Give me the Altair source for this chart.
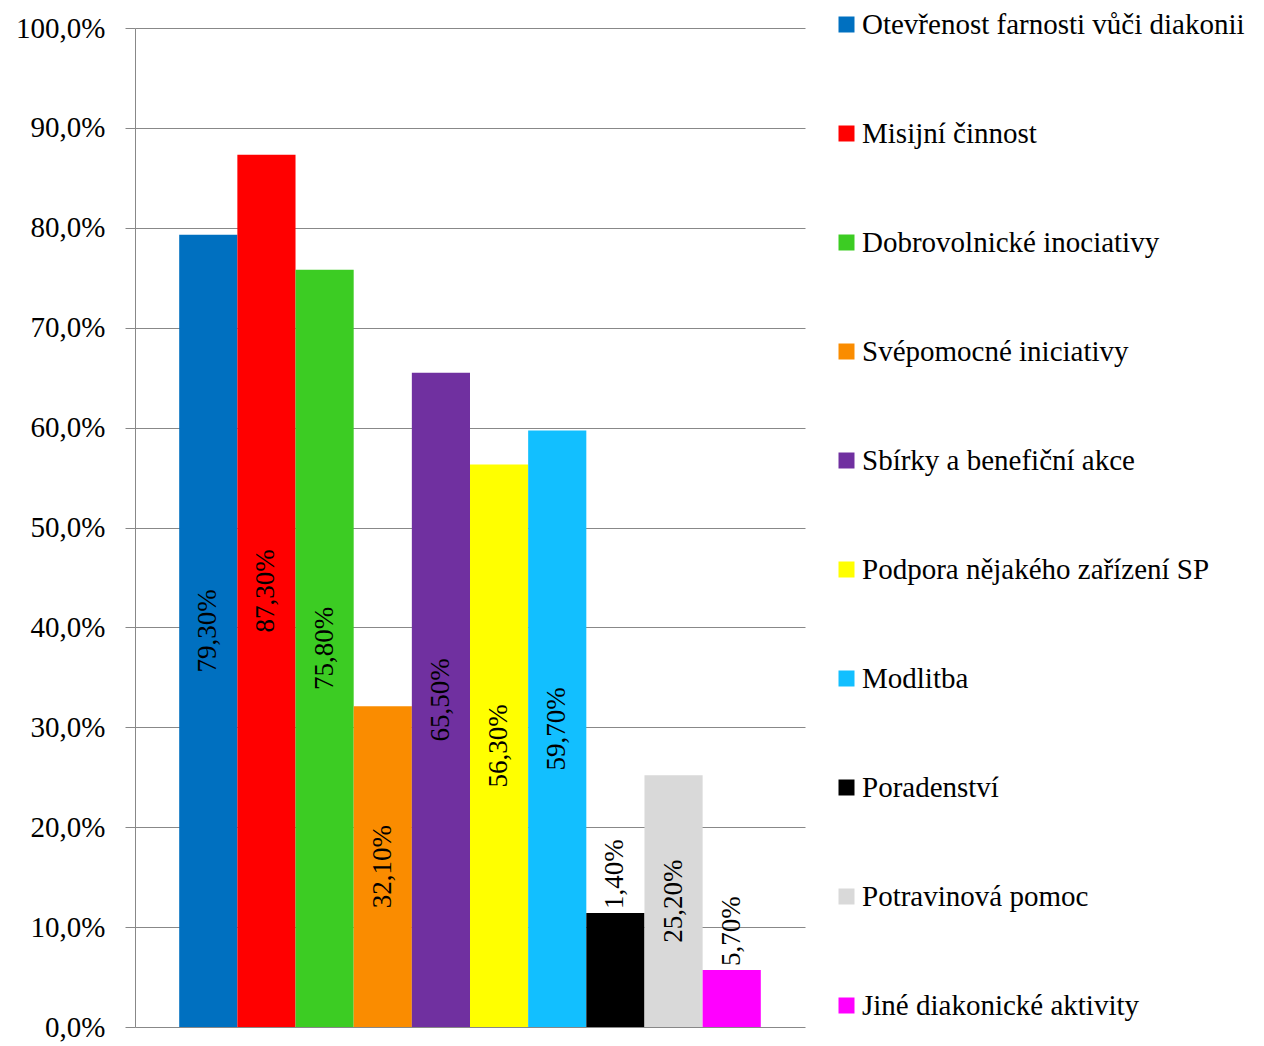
import altair as alt
import pandas as pd

categories = [
    "Otevřenost farnosti vůči diakonii",
    "Misijní činnost",
    "Dobrovolnické inociativy",
    "Svépomocné iniciativy",
    "Sbírky a benefiční akce",
    "Podpora nějakého zařízení SP",
    "Modlitba",
    "Poradenství",
    "Potravinová pomoc",
    "Jiné diakonické aktivity",
]
values = [79.3, 87.3, 75.8, 32.1, 65.5, 56.3, 59.7, 11.4, 25.2, 5.7]
labels = ["79,30%", "87,30%", "75,80%", "32,10%", "65,50%", "56,30%",
          "59,70%", "1,40%", "25,20%", "5,70%"]
colors = ["#0070C0", "#FF0000", "#3CCC23", "#FA8C00", "#7030A0",
          "#FFFF00", "#12BFFF", "#000000", "#D9D9D9", "#FF00FF"]

df = pd.DataFrame({"cat": categories, "val": values, "lab": labels})

FONT = "Liberation Serif"

x = alt.X("cat:N", sort=categories,
          scale=alt.Scale(paddingInner=0, paddingOuter=0.76),
          axis=None)
y_axis = alt.Axis(
    values=[0, 10, 20, 30, 40, 50, 60, 70, 80, 90, 100],
    labelExpr="replace(format(datum.value, '.1f'), '.', ',') + '%'",
    labelFont=FONT, labelFontSize=29, labelColor="#000000",
    labelPadding=20, tickSize=10, tickColor="#888888",
    domainColor="#888888", gridColor="#888888", gridWidth=1,
    title=None,
)
y = alt.Y("val:Q", scale=alt.Scale(domain=[0, 100], nice=False), axis=y_axis)

bars = alt.Chart(df).mark_bar().encode(
    x=x,
    y=y,
    color=alt.Color(
        "cat:N", sort=categories,
        scale=alt.Scale(domain=categories, range=colors),
        legend=alt.Legend(
            title=None, orient="none", legendX=697, legendY=-18,
            symbolType="square", symbolSize=256, symbolStrokeWidth=0,
            labelFont=FONT, labelFontSize=29, labelColor="#000000",
            rowPadding=79, labelLimit=600, symbolOffset=0, labelOffset=1,
        ),
    ),
)

base_text = alt.Chart(df)
big = base_text.transform_filter("datum.val >= 15").transform_calculate(
    mid="datum.val / 2"
).mark_text(angle=270, align="center", baseline="middle",
            font=FONT, fontSize=27, color="#000000").encode(
    x=alt.X("cat:N", sort=categories), y=alt.Y("mid:Q"), text="lab:N"
)
small = base_text.transform_filter("datum.val < 15").mark_text(
    angle=270, align="left", baseline="middle", dx=4,
    font=FONT, fontSize=27, color="#000000").encode(
    x=alt.X("cat:N", sort=categories), y=alt.Y("val:Q"), text="lab:N"
)

chart = alt.layer(bars, big, small).properties(
    width=670, height=999,
    padding={"left": 7, "top": 2, "right": 5, "bottom": 5},
).configure_view(stroke=None).configure_axisX(grid=False)

chart.save("out.html", embed_options={"renderer": "svg", "actions": False})
